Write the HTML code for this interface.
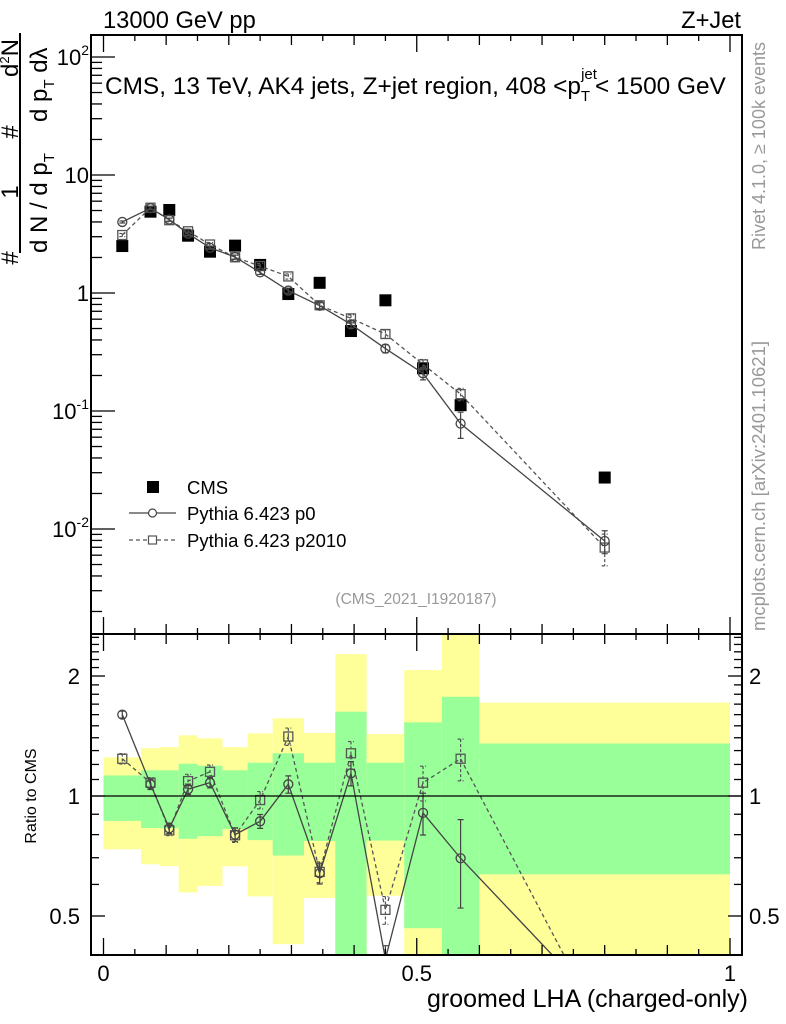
<!DOCTYPE html>
<html><head><meta charset="utf-8"><style>
html,body{margin:0;padding:0;background:#fff;width:786px;height:1024px;overflow:hidden;}
svg{display:block;font-family:"Liberation Sans",sans-serif;}
</style></head><body>
<svg id="chart" width="786" height="1024" viewBox="0 0 786 1024" xmlns="http://www.w3.org/2000/svg">
<g id="bands"></g>
<g id="marks"></g>
<g id="axes"></g>
<text x="103" y="28" font-size="23.7">13000 GeV pp</text>
<text x="741" y="28" font-size="23.7" text-anchor="end">Z+Jet</text>
<text x="105" y="94" font-size="24.4">CMS, 13 TeV, AK4 jets, Z+jet region, 408 &lt;p<tspan font-size="15" dy="7">T</tspan><tspan font-size="15" dx="-9" dy="-22">jet</tspan><tspan dy="15" dx="-2">&lt; 1500 GeV</tspan></text>
<text x="416" y="604" font-size="15.5" fill="#999" text-anchor="middle">(CMS_2021_I1920187)</text>
<text transform="translate(765,250) rotate(-90)" font-size="18" fill="#999">Rivet 4.1.0, ≥ 100k events</text>
<text transform="translate(765,631) rotate(-90)" font-size="18.5" fill="#999">mcplots.cern.ch [arXiv:2401.10621]</text>
<g font-size="24">
<line x1="20" y1="33" x2="20" y2="253" stroke="#000" stroke-width="2"/>
<text transform="translate(18,258) rotate(-90)" text-anchor="middle">#</text>
<text transform="translate(18,192) rotate(-90)" text-anchor="middle">1</text>
<text transform="translate(18,132) rotate(-90)" text-anchor="middle">#</text>
<text transform="translate(18,58) rotate(-90)" text-anchor="middle">d<tspan font-size="13" dy="-9">2</tspan><tspan dy="9">N</tspan></text>
<text transform="translate(47,253) rotate(-90)">d N / d p<tspan font-size="15" dy="7">T</tspan></text>
<text transform="translate(47,122) rotate(-90)">d p<tspan font-size="15" dy="7">T</tspan><tspan dy="-7"> d</tspan>λ</text>
</g>
<text transform="translate(36,796) rotate(-90)" font-size="16" text-anchor="middle">Ratio to CMS</text>
<text x="748" y="1007" font-size="25" text-anchor="end">groomed LHA (charged-only)</text>
<g font-size="18.5">
<g><rect x="147" y="481" width="12" height="12" fill="#000"/><text x="187" y="494">CMS</text></g>
<g><line x1="129" y1="513" x2="176" y2="513" stroke="#444" stroke-width="1.3"/><circle cx="152.5" cy="513" r="4" fill="#fff" stroke="#444" stroke-width="1.2"/><text x="187" y="520">Pythia 6.423 p0</text></g>
<g><line x1="129" y1="540" x2="176" y2="540" stroke="#555" stroke-width="1.2" stroke-dasharray="4,3"/><rect x="148.5" y="536" width="8" height="8" fill="#fff" stroke="#555" stroke-width="1.2"/><text x="187" y="547">Pythia 6.423 p2010</text></g>
</g>
</svg>
<script>
const binEdges=[0,0.06,0.09,0.12,0.15,0.19,0.23,0.27,0.32,0.37,0.42,0.48,0.54,0.6,1.0];
const cmsValues=[2.5,4.89,5.05,3.06,2.24,2.52,1.73,0.98,1.22,0.476,0.867,0.23,0.112,0.0273];
const p0Ratio=[1.6,1.07,0.83,1.04,1.08,0.80,0.864,1.07,0.64,1.14,0.39,0.907,0.698,0.29];
const p2010Ratio=[1.24,1.08,0.82,1.09,1.15,0.797,0.977,1.41,0.645,1.28,0.518,1.08,1.24,0.255];
const p0RelErr=[0.02,0.03,0.03,0.03,0.03,0.04,0.04,0.05,0.06,0.07,0.08,0.12,0.25,0.22];
const p2010RelErr=[0.03,0.03,0.03,0.04,0.04,0.04,0.05,0.05,0.06,0.07,0.08,0.1,0.12,0.3];
const yellowHi=[1.25,1.318,1.326,1.42,1.395,1.326,1.436,1.567,1.44,2.27,1.43,2.07,2.6,1.715];
const yellowLo=[0.735,0.674,0.667,0.573,0.595,0.666,0.56,0.425,0.555,0.3,0.562,0.3,0.3,0.3];
const greenHi=[1.126,1.16,1.16,1.205,1.191,1.16,1.212,1.28,1.212,1.627,1.212,1.53,1.774,1.354];
const greenLo=[0.866,0.831,0.83,0.781,0.793,0.826,0.775,0.709,0.771,0.3,0.773,0.466,0.3,0.636];
const mainTickLabels=["10^2","10","1","10^-1","10^-2"];
const ratioTickLabels=["2","1","0.5"];
const xTickLabels=["0","0.5","1"];

const NS="http://www.w3.org/2000/svg";
const L=91,R=742,MT=35,MB=634,RT=634,RB=955;
const X=v=>103.5+626.5*v;
const Ym=v=>293-118*Math.log10(v);
const Yr=r=>796-398.6*Math.log10(r);
function mk(tag,attrs,parent){const e=document.createElementNS(NS,tag);for(const k in attrs)e.setAttribute(k,attrs[k]);parent.appendChild(e);return e;}
const bands=document.getElementById('bands'),marks=document.getElementById('marks'),axes=document.getElementById('axes');
const clampR=r=>Math.min(Math.max(r,0.35),2.6);

for(let i=0;i<cmsValues.length;i++){
  const x0=X(binEdges[i]),x1=X(binEdges[i+1]);
  const yb=Math.min(Yr(clampR(yellowLo[i])),RB),yt=Math.max(Yr(yellowHi[i]),RT);
  let e=mk('rect',{x:x0,y:yt,width:x1-x0,height:yb-yt,fill:'#ffff99'},bands);
  
  
  const gb=Math.min(Yr(clampR(greenLo[i])),RB),gt=Math.max(Yr(greenHi[i]),RT);
  e=mk('rect',{x:x0,y:gt,width:x1-x0,height:gb-gt,fill:'#99ff99'},bands);
  
  
}
mk('line',{x1:L,x2:R,y1:Yr(1),y2:Yr(1),stroke:'#000','stroke-width':1.3},axes);

const mids=binEdges.slice(0,-1).map((e,i)=>(e+binEdges[i+1])/2);
const defs=mk('defs',{},marks);
const c1=mk('clipPath',{id:'cm'},defs);mk('rect',{x:L,y:MT,width:R-L,height:MB-MT},c1);
const c2=mk('clipPath',{id:'cr'},defs);mk('rect',{x:L,y:RT,width:R-L,height:RB-RT},c2);
const gm=mk('g',{'clip-path':'url(#cm)'},marks),gr=mk('g',{'clip-path':'url(#cr)'},marks);

function series(ratio,relErr,col,dash,shape,name){
  const mainPts=mids.map((m,i)=>[X(m),Ym(ratio[i]*cmsValues[i])]);
  const ratPts=mids.map((m,i)=>[X(m),Yr(ratio[i])]);
  [[gm,mainPts,i=>Ym(ratio[i]*cmsValues[i]*(1+relErr[i])),i=>Ym(ratio[i]*cmsValues[i]*(1-relErr[i]))],
   [gr,ratPts,i=>Yr(ratio[i]*(1+relErr[i])),i=>Yr(ratio[i]*(1-relErr[i]))]].forEach(([g,pts,hi,lo],k)=>{
    const pl=mk('polyline',{points:pts.map(p=>p.join(',')).join(' '),fill:'none',stroke:col,'stroke-width':1.3},g);
    if(dash)pl.setAttribute('stroke-dasharray','4,3');
    
    
    pts.forEach((p,i)=>{
      const eb=mk('path',{d:`M${p[0]},${hi(i)}V${lo(i)}M${p[0]-3},${hi(i)}h6M${p[0]-3},${lo(i)}h6`,stroke:col,'stroke-width':1.2,fill:'none'},g);
      if(dash)eb.setAttribute('stroke-dasharray','3,2');
      
      
      let m;
      if(shape==='c')m=mk('circle',{cx:p[0],cy:p[1],r:4.5,fill:'none',stroke:col,'stroke-width':1.3},g);
      else m=mk('rect',{x:p[0]-4.5,y:p[1]-4.5,width:9,height:9,fill:'none',stroke:col,'stroke-width':1.3},g);
      
      
    });
  });
}
cmsValues.forEach((v,i)=>{
  const r=mk('rect',{x:X(mids[i])-6,y:Ym(v)-6,width:12,height:12,fill:'#000'},gm);
  
  
});
series(p2010Ratio,p2010RelErr,'#555',true,'s','p2010');
series(p0Ratio,p0RelErr,'#444',false,'c','p0');

[[MT,MB],[RT,RB]].forEach(([t,b])=>mk('rect',{x:L,y:t,width:R-L,height:b-t,fill:'none',stroke:'#000','stroke-width':2},axes));
for(let k=0;k<=20;k++){
  const v=k*0.05,x=X(v),len=(k%10===0)?17:(k%2===0?10:6);
  [[MT,1],[MB,-1],[RT,1],[RB,-1]].forEach(([y,d])=>mk('line',{x1:x,x2:x,y1:y,y2:y+d*len,stroke:'#000','stroke-width':1.3},axes));
}
xTickLabels.forEach((t,i)=>{const e=mk('text',{x:X(i*0.5),y:981,'font-size':22,'text-anchor':'middle'},axes);e.textContent=t;
  });
for(let d=-3;d<=2;d++){for(let m=1;m<=9;m++){const v=m*Math.pow(10,d),y=Ym(v);if(y<MT||y>MB)continue;
  const len=m===1?24:11;mk('line',{x1:L,x2:L+len,y1:y,y2:y,stroke:'#000','stroke-width':1.3},axes);}}
mainTickLabels.forEach((t,i)=>{const y=Ym(Math.pow(10,2-i));const e=mk('text',{x:89,y:y+8,'font-size':22,'text-anchor':'end'},axes);
  const p=t.split('^');e.textContent=p[0];if(p[1]){const s=mk('tspan',{'font-size':14,dy:-10},e);s.textContent=p[1];}
  });
[0.4,0.5,0.6,0.7,0.8,0.9,1,1.1,1.2,1.3,1.4,1.5,1.6,1.7,1.8,1.9,2,2.1,2.2,2.3,2.4,2.5].forEach(v=>{const y=Yr(v);if(y<RT||y>RB)return;
  const major=[0.5,1,2].includes(v);const len=major?14:8;
  mk('line',{x1:L,x2:L+len,y1:y,y2:y,stroke:'#000','stroke-width':1.3},axes);
  mk('line',{x1:R,x2:R-len,y1:y,y2:y,stroke:'#000','stroke-width':1.3},axes);});
ratioTickLabels.forEach(t=>{const y=Yr(parseFloat(t))+8;
  let e=mk('text',{x:80,y:y,'font-size':22,'text-anchor':'end'},axes);e.textContent=t;
  
  e=mk('text',{x:749,y:y,'font-size':22},axes);e.textContent=t;
  });
</script>
</body></html>
